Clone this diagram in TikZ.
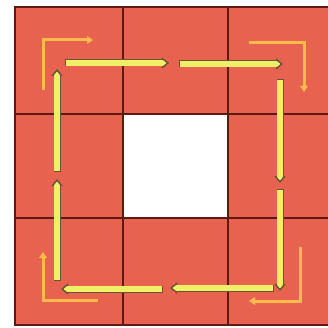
\documentclass[tikz,border=0pt]{standalone}
\usetikzlibrary{arrows.meta}
\definecolor{salmon}{HTML}{E8634F}
\definecolor{gridline}{HTML}{5E1A12}
\definecolor{yfill}{HTML}{F0F066}
\definecolor{yedge}{HTML}{6A5238}
\definecolor{orng}{HTML}{FFBA4C}
\tikzset{
  gridstyle/.style={draw=gridline, line width=1.1pt},
  youter/.style={draw=yedge, line width=7pt, -{Triangle[length=7pt,width=11pt]}},
  yinner/.style={draw=yfill, line width=5.4pt, shorten <=0.8pt, shorten >=2.5pt, -{Triangle[length=3.5pt,width=5.4pt]}},
  oarrow/.style={draw=orng, line width=3pt, -{Triangle[length=6pt,width=7.5pt]}}
}
\begin{document}
\begin{tikzpicture}[x=1pt,y=-1pt]
\useasboundingbox (0,0) rectangle (328,328);
\clip (0,0) rectangle (328,328);
\fill[white] (0,0) rectangle (328,328);
% cells
\fill[salmon] (15,7) rectangle (335,325);
\fill[white] (123,114) rectangle (228,218);
\draw[gridstyle] (15,7) rectangle (335,325);
\draw[gridstyle] (123,7) -- (123,325);
\draw[gridstyle] (228,7) -- (228,325);
\draw[gridstyle] (15,114) -- (335,114);
\draw[gridstyle] (15,218) -- (335,218);
% yellow arrow end points
\coordinate (t1s) at (65,63);  \coordinate (t1e) at (169,63);
\coordinate (t2s) at (179,64); \coordinate (t2e) at (283,64);
\coordinate (r1s) at (280,79); \coordinate (r1e) at (280,183);
\coordinate (r2s) at (280,189);\coordinate (r2e) at (280,291);
\coordinate (b1s) at (274,288);\coordinate (b1e) at (170,288);
\coordinate (b2s) at (163,289);\coordinate (b2e) at (61,289);
\coordinate (l1s) at (57,281); \coordinate (l1e) at (57,179);
\coordinate (l2s) at (57,172); \coordinate (l2e) at (57,69);
\foreach \a/\b in {t1s/t1e,t2s/t2e,r1s/r1e,r2s/r2e,b1s/b1e,b2s/b2e,l1s/l1e,l2s/l2e}{
  \draw[youter] (\a) -- (\b);
}
\foreach \a/\b in {t1s/t1e,t2s/t2e,r1s/r1e,r2s/r2e,b1s/b1e,b2s/b2e,l1s/l1e,l2s/l2e}{
  \draw[yinner] (\a) -- (\b);
}
% orange corner arrows
\coordinate (o1a) at (43,90);  \coordinate (o1b) at (43,40);  \coordinate (o1c) at (93,40);
\coordinate (o2a) at (249,43); \coordinate (o2b) at (304,43); \coordinate (o2c) at (304,92);
\coordinate (o3a) at (300,247);\coordinate (o3b) at (300,301);\coordinate (o3c) at (249,301);
\coordinate (o4a) at (98,300); \coordinate (o4b) at (43,300); \coordinate (o4c) at (43,252);
\draw[oarrow] (o1a) -- (o1b) -- (o1c);
\draw[oarrow] (o2a) -- (o2b) -- (o2c);
\draw[oarrow] (o3a) -- (o3b) -- (o3c);
\draw[oarrow] (o4a) -- (o4b) -- (o4c);
\end{tikzpicture}
\end{document}
